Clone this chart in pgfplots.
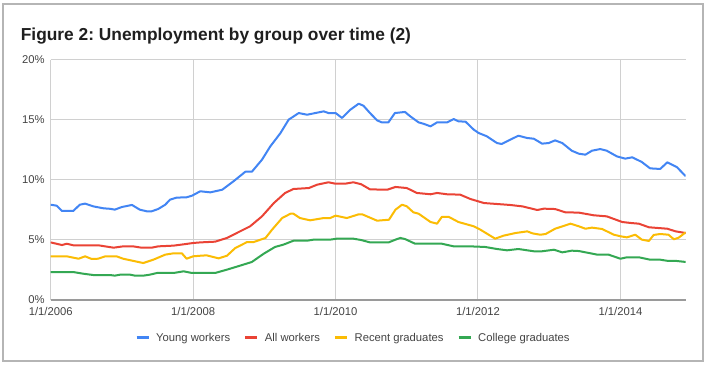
\documentclass[border=0pt]{standalone}
\usepackage{fontspec}
\setmainfont{Liberation Sans}
\usepackage{pgfplots}
\pgfplotsset{compat=1.18}
\frenchspacing
\definecolor{cblue}{HTML}{4285F4}
\definecolor{cred}{HTML}{EA4335}
\definecolor{cyellow}{HTML}{FBBC04}
\definecolor{cgreen}{HTML}{34A853}
\definecolor{gridc}{HTML}{D0D0D0}
\definecolor{axisc}{HTML}{9A9A9A}
\definecolor{labelc}{HTML}{444444}
\definecolor{framec}{HTML}{B5B5B5}
\begin{document}
\begin{tikzpicture}
\fill[white] (0bp,0bp) rectangle (708bp,366bp);
\draw[color=framec, line width=1.3bp] (3bp,5bp) rectangle (703bp,362bp);
\node[anchor=base west, font=\fontsize{17.4}{20}\selectfont\bfseries, text=black!88, inner sep=0pt] at (20.7bp,325bp) {Figure 2: Unemployment by group over time (2)};
\begin{axis}[
  at={(50.7bp,66bp)}, anchor=south west,
  scale only axis, width=635bp, height=240bp,
  xmin=0, xmax=107, ymin=0, ymax=20,
  axis line style={draw=none},
  xtick={0,24,48,72,96},
  xticklabels={1/1/2006,1/1/2008,1/1/2010,1/1/2012,1/1/2014},
  ytick={0,5,10,15,20},
  yticklabels={0\%,5\%,10\%,15\%,20\%},
  major tick length=0pt,
  grid=major, grid style={color=gridc, line width=1bp},
  extra y ticks={0}, extra y tick labels={},
  extra y tick style={grid style={color=axisc, line width=1.4bp}},
  tick label style={font=\fontsize{11.3}{13}\selectfont, text=labelc},
  xticklabel style={yshift=-4bp},
  yticklabel style={xshift=-2.6bp},
  legend columns=4,
  legend style={draw=none, fill=none, at={(0.4767,-0.157)}, anchor=center,
    font=\fontsize{11.3}{13}\selectfont, text=labelc,
    /tikz/every odd column/.append style={column sep=4bp},
    /tikz/every even column/.append style={column sep=11.7bp}},
  legend image code/.code={\draw[line width=3bp] (0bp,0bp) -- (12bp,0bp);},
  every axis plot/.append style={line width=2bp, line join=round, no markers},
]
\addplot[cblue] coordinates {
(0,7.94) (1,7.86) (1.9,7.42) (3.8,7.42) (4.9,7.94) (5.8,8.03) (7.2,7.8) (8.9,7.64) (10,7.6) (10.8,7.53) (12,7.75) (13.7,7.92) (15,7.53) (16.2,7.39) (17,7.39) (18.1,7.58) (19.3,7.94) (20.1,8.36) (21.2,8.53) (22.9,8.56) (23.8,8.69) (25.2,9.06) (26.9,8.97) (28.9,9.19) (30.8,9.89) (32.8,10.69) (33.9,10.69) (35.6,11.69) (37,12.8) (38.7,13.9) (40.1,15.03) (41.8,15.58) (43.2,15.44) (44.6,15.58) (46,15.72) (46.8,15.58) (48,15.58) (49.1,15.17) (50.5,15.86) (51.9,16.36) (52.7,16.19) (53.8,15.58) (55,14.97) (55.8,14.8) (56.9,14.8) (58,15.58) (59.7,15.67) (60.6,15.3) (62,14.8) (62.8,14.69) (64,14.47) (65.1,14.8) (66.8,14.8) (67.9,15.08) (68.7,14.89) (69.9,14.86) (71.3,14.19) (72.1,13.92) (73.5,13.64) (75.2,13.08) (76,13.0) (77.2,13.3) (78.8,13.69) (80.3,13.5) (81.4,13.44) (82.8,13.03) (83.9,13.08) (85,13.3) (86.2,13.08) (87.8,12.44) (89,12.19) (90.1,12.11) (91.2,12.44) (92.6,12.58) (93.7,12.44) (95.4,11.97) (96.8,11.78) (98,11.89) (99.6,11.5) (101,10.97) (102.7,10.92) (103.9,11.47) (105.5,11.08) (107,10.31)
};
\addlegendentry{Young workers}
\addplot[cred] coordinates {
(0,4.8) (1.9,4.58) (2.7,4.69) (3.8,4.56) (8,4.56) (10.6,4.36) (12.2,4.47) (13.9,4.47) (15.3,4.36) (17,4.36) (18.1,4.47) (20.7,4.53) (22.4,4.64) (24,4.75) (25.2,4.8) (27.7,4.86) (29.7,5.17) (31.7,5.67) (33.6,6.14) (35.6,6.97) (37.6,8.08) (39.5,8.92) (40.9,9.25) (43.5,9.33) (44.9,9.61) (46.8,9.81) (48,9.69) (49.6,9.69) (51,9.81) (52.3,9.65) (53.8,9.22) (56.7,9.19) (58.1,9.42) (60,9.33) (61.7,8.92) (64,8.81) (65.1,8.92) (66.8,8.81) (69,8.78) (70.7,8.42) (73,8.08) (75.2,8.0) (77.4,7.92) (79.5,7.8) (82,7.5) (83.1,7.61) (85,7.58) (86.7,7.31) (89,7.28) (91.5,7.06) (93.7,6.97) (96.3,6.5) (97.7,6.42) (99.1,6.36) (100.8,6.06) (103.9,5.94) (105.3,5.72) (107,5.58)
};
\addlegendentry{All workers}
\addplot[cyellow] coordinates {
(0,3.64) (2.7,3.64) (4.7,3.44) (5.8,3.64) (6.9,3.42) (8,3.44) (9.2,3.64) (11.1,3.64) (12.2,3.44) (15.6,3.08) (17.3,3.36) (19.3,3.78) (20.7,3.89) (22.1,3.89) (22.9,3.44) (24,3.64) (25.5,3.7) (26.3,3.72) (28.3,3.47) (29.7,3.69) (31.1,4.33) (33.1,4.83) (34.2,4.83) (36.2,5.17) (37.3,5.86) (39,6.83) (40.4,7.19) (40.9,7.19) (42,6.83) (43.7,6.64) (46,6.83) (47.1,6.83) (48,7.03) (49.9,6.83) (51.9,7.14) (52.5,7.14) (53.3,6.97) (55,6.61) (57,6.69) (58.1,7.53) (59.2,7.94) (60,7.81) (61.1,7.31) (62,7.19) (64,6.5) (65.1,6.36) (65.9,6.92) (67.1,6.92) (68.7,6.5) (71.3,6.14) (72.4,5.86) (74.9,5.11) (76.3,5.36) (78.3,5.58) (80.3,5.72) (81.2,5.55) (82.5,5.44) (83.4,5.5) (85,5.94) (87.6,6.36) (89,6.14) (90.1,5.94) (91.2,6.03) (92.9,5.92) (94.9,5.44) (96,5.31) (97.1,5.22) (98.5,5.44) (99.6,5.03) (100.8,4.92) (101.6,5.42) (102.7,5.5) (104.1,5.44) (105,5.06) (105.8,5.19) (107,5.64)
};
\addlegendentry{Recent graduates}
\addplot[cgreen] coordinates {
(0,2.33) (3.8,2.33) (5.5,2.19) (7.2,2.08) (10,2.08) (10.8,2.03) (11.7,2.11) (13.4,2.11) (14.2,2.03) (15.6,2.03) (16.7,2.11) (17.9,2.25) (20.7,2.25) (22.4,2.39) (23.8,2.25) (27.7,2.25) (29.7,2.53) (31.9,2.86) (33.9,3.17) (35.9,3.86) (37.8,4.42) (39.2,4.61) (40.9,4.94) (43.2,4.94) (44.3,5.03) (47.1,5.03) (48.2,5.11) (51,5.11) (52.3,5.0) (53.8,4.8) (57,4.81) (58.1,5.03) (58.9,5.17) (59.7,5.08) (61.4,4.69) (65.9,4.69) (67.9,4.47) (70.7,4.47) (73.2,4.42) (75.2,4.25) (76.9,4.14) (78.8,4.25) (81.4,4.06) (82.8,4.06) (84.8,4.19) (86.2,3.97) (87.8,4.11) (89,4.08) (92.1,3.78) (94,3.78) (96,3.44) (97.1,3.56) (99.1,3.56) (101,3.36) (102.7,3.36) (104.1,3.25) (105.5,3.25) (107,3.17)
};
\addlegendentry{College graduates}
\end{axis}
\pgfresetboundingbox
\useasboundingbox (0bp,0bp) rectangle (708bp,366bp);
\end{tikzpicture}
\end{document}
